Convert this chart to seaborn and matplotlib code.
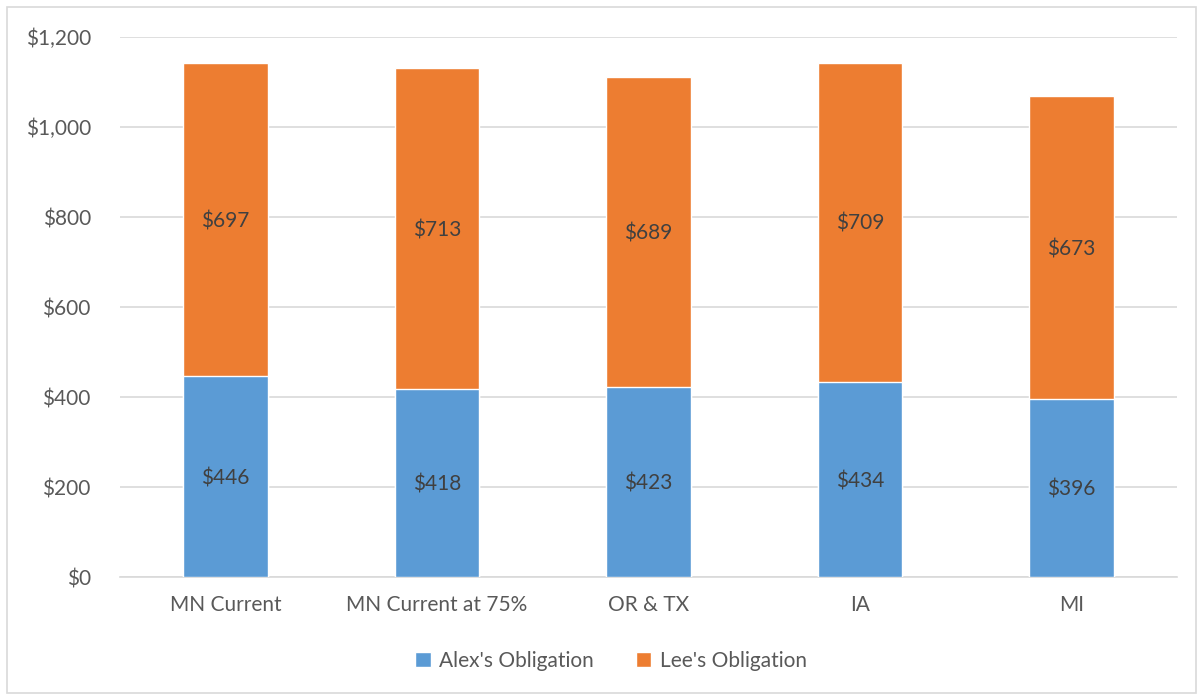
import matplotlib
matplotlib.use("Agg")
import matplotlib.pyplot as plt
from matplotlib.patches import Patch, Rectangle
import seaborn as sns
import pandas as pd

categories = ["MN Current", "MN Current at 75%", "OR & TX", "IA", "MI"]
alex = [446, 418, 423, 434, 396]
lee = [697, 713, 689, 709, 673]
yticks = [0, 200, 400, 600, 800, 1000, 1200]
ytick_labels = ["$0", "$200", "$400", "$600", "$800", "$1,000", "$1,200"]

BLUE = "#5B9BD5"
ORANGE = "#ED7D31"
TEXT = "#595959"
GRID = "#D9D9D9"
FS = 15

sns.set_theme(style="white")
plt.rcParams["font.family"] = ["Lato", "DejaVu Sans"]

df = pd.DataFrame({"cat": categories, "alex": alex, "lee": lee})
df["total"] = df["alex"] + df["lee"]

W, H = 1198, 694
fig = plt.figure(figsize=(W / 100, H / 100), dpi=100)
ax = fig.add_axes([120 / W, 1 - 577 / H, (1177 - 120) / W, (577 - 37) / H])

sns.barplot(data=df, x="cat", y="total", color=ORANGE, saturation=1, width=0.4, ax=ax, zorder=3)
sns.barplot(data=df, x="cat", y="alex", color=BLUE, saturation=1, width=0.4, ax=ax, zorder=4)

for i, (a, l) in enumerate(zip(alex, lee)):
    ax.text(i, a / 2 - 4, f"${a}", ha="center", va="center", fontsize=FS, color="#404040", zorder=5)
    ax.text(i, a + l / 2 - 4, f"${l}", ha="center", va="center", fontsize=FS, color="#404040", zorder=5)

ax.set_xlim(-0.5, 4.5)
ax.set_ylim(0, 1200)
ax.set_yticks(yticks)
ax.set_yticklabels(ytick_labels)
ax.set_xlabel("")
ax.set_ylabel("")
ax.tick_params(axis="both", length=0, labelsize=FS, labelcolor=TEXT)
ax.tick_params(axis="y", pad=21)
ax.tick_params(axis="x", pad=13)
ax.yaxis.grid(True, color=GRID, linewidth=1.2, zorder=0)
ax.set_axisbelow(True)
for s in ["top", "right", "left"]:
    ax.spines[s].set_visible(False)
ax.spines["bottom"].set_color(GRID)
ax.spines["bottom"].set_linewidth(1.2)
ax.spines["bottom"].set_zorder(2)

# figure border
fig.patches.append(Rectangle((7 / W, 0.002), 1 - 7 / W - 0.002, 1 - 7 / H - 0.002,
                             transform=fig.transFigure, fill=False,
                             edgecolor=GRID, linewidth=1.2))

handles = [Patch(facecolor=BLUE, label="Alex's Obligation"),
           Patch(facecolor=ORANGE, label="Lee's Obligation")]
fig.legend(handles=handles, loc="center", bbox_to_anchor=(611 / W, 1 - 661 / H), ncol=2,
           frameon=False, fontsize=FS, labelcolor=TEXT, handlelength=0.75,
           handleheight=0.75, handletextpad=0.4, columnspacing=2.0)

fig.savefig("out.png", dpi=100)
